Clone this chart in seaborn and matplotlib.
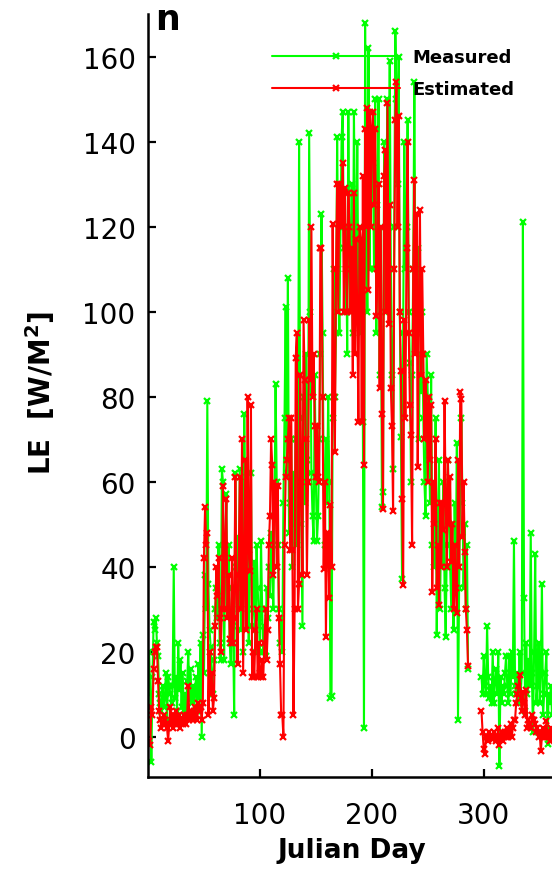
import numpy as np
import pandas as pd
import matplotlib
matplotlib.use("Agg")
import matplotlib.pyplot as plt
from matplotlib.lines import Line2D
import seaborn as sns

# ---------------- data ----------------
days_seg1 = list(range(1, 287))
days_seg2 = list(range(298, 362))

measured_seg1 = [
    20, 10, -6, 14, 27, 25, 28, 22, 19, 10,
    8, 6, 12, 7, 9, 15, 4, 14, 12, 10,
    8, 12, 40, 9, 14, 6, 22, 11, 18, 7,
    15, 6, 10, 5, 13, 20, 9, 16, 8, 12,
    5, 11, 14, 6, 17, 9, 22, 0, 24, 15,
    38, 30, 79, 36, 25, 21, 15, 10, 18, 30,
    35, 28, 45, 22, 18, 63, 60, 18, 40, 57,
    30, 45, 22, 17, 35, 26, 5, 62, 40, 47,
    30, 63, 25, 45, 20, 76, 50, 35, 55, 22,
    40, 62, 26, 30, 41, 20, 45, 35, 28, 20,
    46, 30, 20, 26, 19, 35, 28, 40, 33, 48,
    40, 30, 52, 83, 60, 45, 30, 22, 28, 20,
    55, 75, 101, 62, 108, 48, 55, 70, 40, 62,
    50, 70, 45, 60, 140, 75, 50, 26, 80, 55,
    90, 65, 60, 142, 100, 62, 52, 46, 85, 60,
    46, 52, 70, 90, 123, 95, 60, 45, 70, 55,
    80, 60, 9, 9.6, 75, 110, 80, 95, 141, 110,
    95, 120, 141, 147, 115, 100, 120, 90, 147, 110,
    100, 130, 95, 147, 120, 110, 140, 100, 120, 95,
    110, 74, 2, 168, 120, 100, 162, 110, 140, 125,
    135, 110, 150, 95, 125, 150, 85, 120, 54, 57.6,
    140, 100, 130, 150, 120, 159, 110, 85, 63, 120,
    166, 150, 130, 160, 100, 70.6, 37, 95, 140, 110,
    120, 145, 100, 88, 60, 85, 110, 154, 100, 95,
    115, 70, 90, 81, 100, 75, 60, 52, 90, 80,
    70, 55, 85, 45, 60, 40, 75, 24, 50, 65,
    30, 55, 40, 60, 35, 23.5, 45, 65, 50, 40,
    30, 45, 25, 55, 40, 69, 4, 35, 60, 75,
    55, 35, 50, 30, 45, 16,
]
estimated_seg1 = [
    -1, -2, 7, 5, 16, 20, 21, 21, 13, 6,
    4, 2, 3, 5, 4, 3, 2, -1, 3, 7,
    4, 2, 5, 3, 6, 4, 3, 5, 2, 4,
    3, 5, 4, 3, 5, 12, 4, 6, 5, 4,
    6, 7, 5, 4, 8, 6, 7, 4, 8, 42,
    54, 45, 48, 5, 20, 10, 15, 6, 9, 26,
    40, 33, 42, 28, 20, 30, 59, 30, 45, 56,
    28, 38, 23, 22, 42, 22, 28, 61, 35, 17,
    38, 61, 30, 70, 15, 40, 65, 25, 80, 44,
    39, 78, 14, 20, 14, 25, 30, 14, 22, 15,
    14, 18, 14, 22, 30, 18, 25, 45, 52, 70,
    64, 38, 60, 59, 40, 59, 28, 17, 5, 5,
    0, 45, 61, 65, 70, 75, 44, 75, 44, 5,
    30, 89, 95, 30, 36, 85, 60, 38, 98, 84,
    70, 38, 60, 98, 84, 120, 80, 90, 73, 61,
    73, 61, 60, 115, 115, 80, 39.5, 60, 23.5, 48,
    48, 32.5, 54.6, 40, 120.7, 80, 67, 110, 130, 100,
    130, 129, 120, 135, 100, 129, 110, 100, 128, 120,
    100, 115, 85, 128, 90, 117, 100, 74, 120, 117,
    74, 132, 64, 143, 120, 148, 105, 147, 120, 143,
    147, 125, 143, 99, 110, 130, 82, 120, 76, 53.6,
    132, 138, 100, 149, 97, 125, 82, 73, 53, 110,
    145, 154, 120, 146, 100, 86, 56, 35.6, 98, 75,
    115, 140, 95, 78, 71, 45, 110, 131, 90, 123,
    63.5, 100, 124, 85, 110, 90, 70, 84, 78, 60,
    80, 65, 78, 34, 60, 50, 70, 35, 45, 31,
    55, 40, 55, 48.5, 79, 55, 40, 65, 50, 61,
    41, 50, 30, 45, 35, 29, 65, 40, 81, 79.5,
    47, 60, 43.5, 30, 25, 16.5,
]
measured_seg2 = [
    14, 10, 19, 12, 10, 26, 14, 9, 12, 8,
    20, 8, 13, 16, 10, 20, -7, 14, 8, 12,
    10, 15, 19, 12, 8, 19, 10, 20, 14, 46,
    12, 10, 15, 8, 20, 10, 15, 121, 32.5, 6,
    22, 10, 18, 12, 48, 15, 1, 20, 43, 8,
    12, 22, 8, 15, 36, 5, 10, 15, 20, -1.7,
    10, 8, 12, 5,
]
estimated_seg2 = [
    6, 1, -3, -4, 0, 0, -1, 1, 0, -0.5,
    -0.5, 1, 0, -1, 0, 2, -2, 0, 1, -1,
    0, 1, 0, 2, 0, 1, 3, 0, 2, 4,
    4, 8, 10, 12, 14.6, 9, 6, 10.6, 8, 5,
    11, 2, 4, 3, 2, 5, 4, 4, 3, 1,
    2, 0, 1, -3.5, 0, 2, 1, 0, 3.7, 0,
    1, -1, 2, 0,
]

series_names = ["Measured", "Estimated"]
series_colors = ["#00ff00", "#ff0000"]
yticks = [0, 20, 40, 60, 80, 100, 120, 140, 160]
xticks = [100, 200, 300]

def make_frame(vals1, vals2, name):
    return pd.DataFrame({
        "day": days_seg1 + days_seg2,
        "LE": vals1 + vals2,
        "series": name,
        "segment": [1] * len(days_seg1) + [2] * len(days_seg2),
    })

df_meas = make_frame(measured_seg1, measured_seg2, "Measured")
df_est = make_frame(estimated_seg1, estimated_seg2, "Estimated")

# ---------------- plot ----------------
sns.set_style("ticks")
plt.rcParams["font.family"] = ["DejaVu Sans"]
plt.rcParams["text.color"] = "black"
plt.rcParams["axes.labelcolor"] = "black"
plt.rcParams["xtick.color"] = "black"
plt.rcParams["ytick.color"] = "black"

fig = plt.figure(figsize=(5.52, 8.79), dpi=100)
ax = fig.add_axes([148 / 552, 1 - 778 / 879, 404 / 552, 763 / 879])

line_kw = dict(marker="x", markersize=5, markeredgewidth=1.6, linewidth=1.5)
for d, c in zip([df_meas, df_est], series_colors):
    sns.lineplot(data=d, x="day", y="LE", units="segment", estimator=None,
                 sort=False, color=c, markeredgecolor=c, legend=False,
                 ax=ax, **line_kw)

ax.set_xlim(0, 361)
ax.set_ylim(-9.5, 170)
ax.set_xticks(xticks)
ax.set_yticks(yticks)
ax.tick_params(axis="both", direction="in", length=5.5, width=1.6,
               labelsize=20, colors="black", labelcolor="black")
ax.tick_params(axis="y", pad=9)
ax.tick_params(axis="x", pad=17)
for s in ["top", "right"]:
    ax.spines[s].set_visible(False)
for s in ["left", "bottom"]:
    ax.spines[s].set_linewidth(1.8)
    ax.spines[s].set_color("black")

ax.set_xlabel("Julian Day", fontsize=19, fontweight="bold", color="black")
ax.set_ylabel(r"LE  [W/M$^{\mathbf{2}}$]", fontsize=20, fontweight="bold", color="black")
ax.xaxis.set_label_coords(0.504, -0.079)
ax.yaxis.set_label_coords(-0.225, 0.505)

handles = [Line2D([], [], color=c, markeredgecolor=c, **line_kw) for c in series_colors]
leg = ax.legend(handles, series_names, loc="upper left", bbox_to_anchor=(0.307, 0.955),
                frameon=False, borderpad=0, borderaxespad=0, handlelength=7.1,
                handletextpad=0.67, labelspacing=0.75, numpoints=1,
                prop={"weight": "bold", "size": 13})
for t in leg.get_texts():
    t.set_color("black")

fig.text(155 / 552, 1 - 30 / 879, "n", fontsize=25, fontweight="bold",
         ha="left", va="baseline", color="black")

fig.savefig("out.png", dpi=100)
